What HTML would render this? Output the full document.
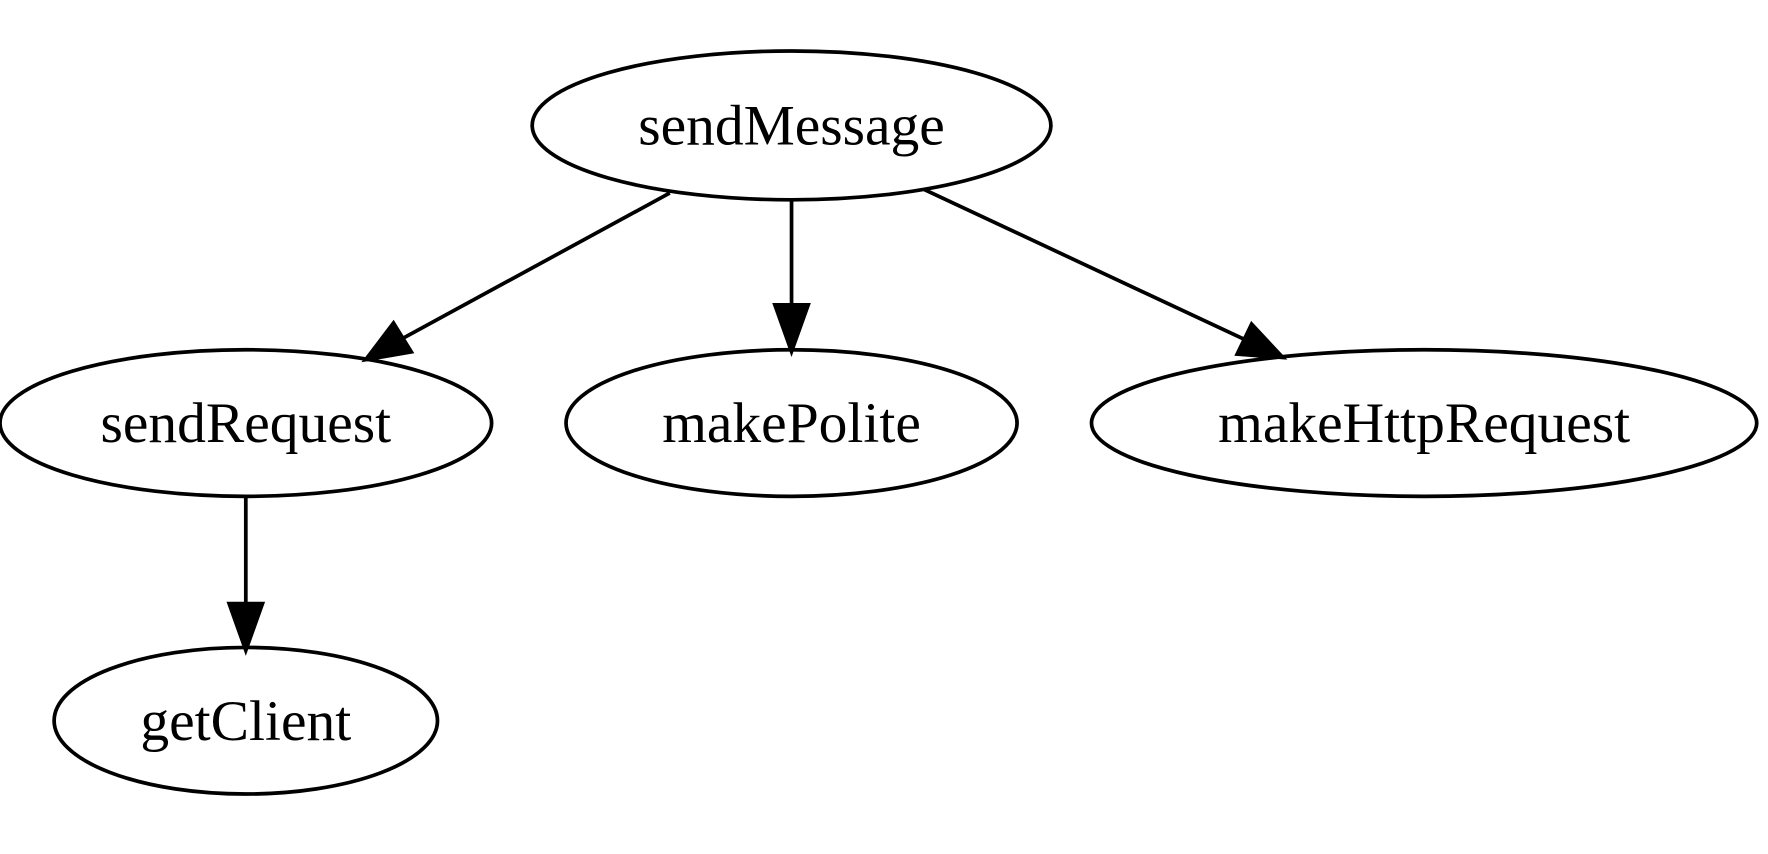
<!DOCTYPE html>
<html><head><style>html,body{margin:0;padding:0;background:#fff;width:1768px;height:854px;overflow:hidden}</style></head>
<body>
<svg width="1768" height="854" viewBox="0 0 1568 757" xmlns="http://www.w3.org/2000/svg">
<g fill="none" stroke="#000" stroke-width="3.3">
<ellipse cx="702" cy="111" rx="230" ry="66"/>
<ellipse cx="218" cy="375" rx="218" ry="65"/>
<ellipse cx="702" cy="375" rx="200" ry="65"/>
<ellipse cx="1263" cy="375" rx="295" ry="65"/>
<ellipse cx="218" cy="639" rx="170" ry="65"/>
<line x1="594" y1="171" x2="357" y2="300"/>
<line x1="702" y1="178" x2="702" y2="270"/>
<line x1="820" y1="168" x2="1104" y2="301"/>
<line x1="218" y1="440" x2="218" y2="535"/>
</g>
<g fill="#000" stroke="#000" stroke-width="3">
<polygon points="324,319 349,286 365,312"/>
<polygon points="702,312 687,270 717,270"/>
<polygon points="1138,317 1097,314 1110,287"/>
<polygon points="218,577 203,535 233,535"/>
</g>
<g font-family="'Liberation Serif',serif" font-size="51" text-anchor="middle" fill="#000">
<text x="702" y="128">sendMessage</text>
<text x="218" y="392">sendRequest</text>
<text x="702" y="392">makePolite</text>
<text x="1263" y="392">makeHttpRequest</text>
<text x="218" y="656">getClient</text>
</g>
</svg>
</body></html>
